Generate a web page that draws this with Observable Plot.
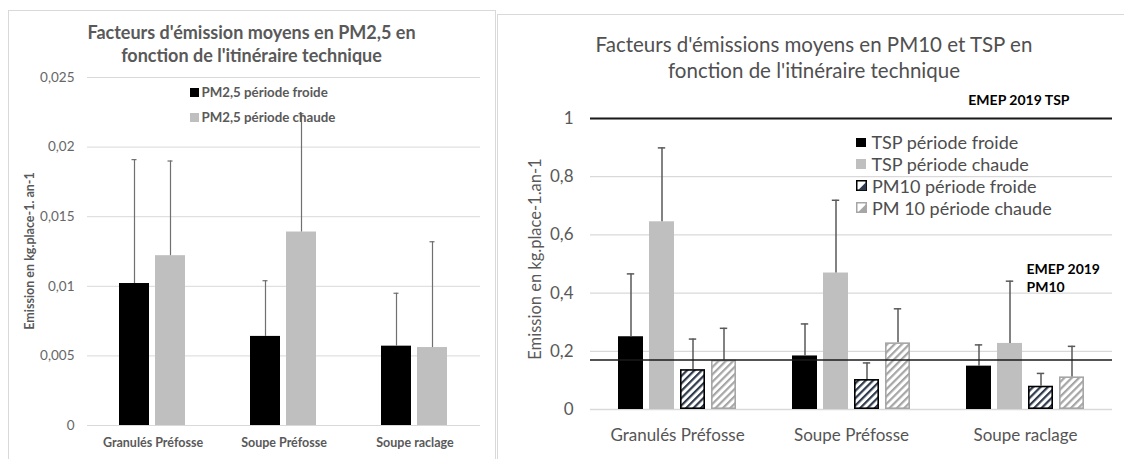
<!DOCTYPE html>
<html>
<head>
<meta charset="utf-8">
<script src="https://cdn.jsdelivr.net/npm/d3@7"></script>
<script src="https://cdn.jsdelivr.net/npm/@observablehq/plot@0.6"></script>
<style>
  body { margin: 0; width: 1124px; height: 459px; overflow: hidden; background: #fff; position: relative; font-family: Lato, "Open Sans", sans-serif; }
  .abs { position: absolute; }
  .title { color: #595959; text-align: center; white-space: nowrap; }
  .ytitle { position: absolute; white-space: nowrap; transform: translate(-50%, -50%) rotate(-90deg); color: #595959; }
  .leg { position: absolute; white-space: nowrap; color: #4d4d4d; display: flex; align-items: center; }
  .sw { display: inline-block; flex: none; }
</style>
</head>
<body>
<div class="abs" style="left:8px;top:10px;width:486px;height:470px;border:1px solid #d9d9d9;"></div>
<div class="abs" style="left:497px;top:14px;width:640px;height:470px;border-left:1px solid #d9d9d9;border-top:1px solid #d9d9d9;"></div>

<div id="chartL" class="abs" style="left:0;top:0"></div>
<div id="chartR" class="abs" style="left:497px;top:0"></div>

<div class="abs title" style="left:8px;width:487px;top:21px;font-weight:700;font-size:18px;line-height:23.4px;">Facteurs d'émission moyens en PM2,5 en<br>fonction de l'itinéraire technique</div>
<div class="abs title" style="left:554px;width:520px;top:32px;font-size:20.5px;line-height:25.5px;color:#505050;">Facteurs d'émissions moyens en PM10 et TSP en<br>fonction de l'itinéraire technique</div>

<div class="ytitle" style="left:29px;top:251px;font-weight:700;font-size:12.5px;">Emission en kg.place-1. an-1</div>
<div class="ytitle" style="left:535px;top:259px;font-size:16.5px;">Emission en kg.place-1.an-1</div>

<div id="legL"></div>
<div id="legR"></div>

<script>
// ---------- data ----------
const categories = ["Granulés Préfosse", "Soupe Préfosse", "Soupe raclage"];

// PM2,5 chart
const pm25Series = ["PM2,5 période froide", "PM2,5 période chaude"];
const pm25Froide = [0.0102, 0.0064, 0.0057];
const pm25FroideSd = [0.0089, 0.0040, 0.0038];
const pm25Chaude = [0.0122, 0.0139, 0.0056];
const pm25ChaudeSd = [0.0068, 0.0085, 0.0076];
const pm25Ticks = [0, 0.005, 0.01, 0.015, 0.02, 0.025];

// PM10 / TSP chart
const pmSeries = ["TSP période froide", "TSP période chaude", "PM10 période froide", "PM 10 période chaude"];
const tspFroide = [0.25, 0.184, 0.149];
const tspFroideSd = [0.216, 0.110, 0.073];
const tspChaude = [0.645, 0.469, 0.227];
const tspChaudeSd = [0.254, 0.250, 0.214];
const pm10Froide = [0.137, 0.103, 0.080];
const pm10FroideSd = [0.105, 0.057, 0.044];
const pm10Chaude = [0.169, 0.229, 0.112];
const pm10ChaudeSd = [0.110, 0.117, 0.105];
const pmTicks = [0, 0.2, 0.4, 0.6, 0.8, 1];
const emepTSP = 1;
const emepPM10 = 0.17;
const emepTSPLabel = "EMEP 2019 TSP";
const emepPM10Label = "EMEP 2019\nPM10";

// ---------- helpers ----------
const fmt = d => String(+d.toFixed(4)).replace(".", ",");
function rows(series, values, sds) {
  const out = [];
  categories.forEach((c, i) => series.forEach((s, j) => out.push({cat: c, series: s, value: values[j][i], sd: sds[j][i]})));
  return out;
}

// ---------- left chart ----------
const leftData = rows(pm25Series, [pm25Froide, pm25Chaude], [pm25FroideSd, pm25ChaudeSd]);
const leftFill = {"PM2,5 période froide": "#000000", "PM2,5 période chaude": "#bfbfbf"};

const plotL = Plot.plot({
  width: 495, height: 459,
  marginLeft: 86, marginRight: 15, marginTop: 77, marginBottom: 34,
  fx: {domain: categories, padding: 0, label: null},
  x: {domain: pm25Series, paddingInner: 0.162, paddingOuter: 0.856, axis: null},
  y: {domain: [0, 0.025], axis: null},
  style: {fontFamily: "Lato, 'Open Sans', sans-serif", background: "transparent", overflow: "visible", color: "#595959"},
  marks: [
    Plot.gridY(pm25Ticks, {stroke: "#d9d9d9", strokeOpacity: 1, strokeWidth: 1}),
    Plot.axisY(pm25Ticks, {tickSize: 0, tickPadding: 13, tickFormat: fmt, fontSize: 13.5, fill: "#666666", label: null}),
    Plot.axisFx({anchor: "bottom", tickSize: 0, tickPadding: 13, fontSize: 12.5, fontWeight: "bold", fill: "#595959", label: null}),
    ...pm25Series.map(s => Plot.barY(leftData.filter(d => d.series === s), {fx: "cat", x: "series", y: "value", fill: leftFill[s]})),
    Plot.ruleX(leftData, {fx: "cat", x: "series", y1: "value", y2: d => d.value + d.sd, stroke: "#6f6f6f", strokeWidth: 1.2}),
    Plot.tickY(leftData, {fx: "cat", x: "series", y: d => d.value + d.sd, stroke: "#6f6f6f", strokeWidth: 1.2, insetLeft: 12.5, insetRight: 12.5})
  ]
});
document.getElementById("chartL").append(plotL);

// ---------- right chart ----------
const rightData = rows(pmSeries, [tspFroide, tspChaude, pm10Froide, pm10Chaude], [tspFroideSd, tspChaudeSd, pm10FroideSd, pm10ChaudeSd]);
const rightFill = {
  "TSP période froide": "#000000",
  "TSP période chaude": "#bfbfbf",
  "PM10 période froide": "url(#hatchDark)",
  "PM 10 période chaude": "url(#hatchGray)"
};
const rightStroke = {
  "TSP période froide": "none",
  "TSP période chaude": "none",
  "PM10 période froide": "#000000",
  "PM 10 période chaude": "#a6a6a6"
};
const lastCat = categories[categories.length - 1];

const plotR = Plot.plot({
  width: 627, height: 459,
  marginLeft: 93, marginRight: 12, marginTop: 118, marginBottom: 50,
  fx: {domain: categories, padding: 0, label: null},
  x: {domain: pmSeries, paddingInner: 0.19, paddingOuter: 0.85, axis: null},
  y: {domain: [0, 1], axis: null},
  style: {fontFamily: "Lato, 'Open Sans', sans-serif", background: "transparent", overflow: "visible", color: "#595959"},
  marks: [
    Plot.gridY(pmTicks, {stroke: "#d9d9d9", strokeOpacity: 1, strokeWidth: 1.3}),
    Plot.axisY(pmTicks, {tickSize: 0, tickPadding: 17, tickFormat: fmt, fontSize: 17, fill: "#595959", label: null}),
    Plot.axisFx({anchor: "bottom", tickSize: 0, tickPadding: 19, fontSize: 17, fill: "#555555", label: null}),
    ...pmSeries.map(s => Plot.barY(rightData.filter(d => d.series === s), {
      fx: "cat", x: "series", y: "value", fill: rightFill[s], stroke: rightStroke[s], strokeWidth: 1.6,
      inset: rightStroke[s] === "none" ? 0 : 0.8
    })),
    Plot.ruleX(rightData, {fx: "cat", x: "series", y1: "value", y2: d => d.value + d.sd, stroke: "#595959", strokeWidth: 1.5}),
    Plot.tickY(rightData, {fx: "cat", x: "series", y: d => d.value + d.sd, stroke: "#595959", strokeWidth: 1.5, insetLeft: 8.8, insetRight: 8.8}),
    Plot.ruleY([emepPM10], {stroke: "#1a1a1a", strokeWidth: 1.6}),
    Plot.ruleY([emepTSP], {stroke: "#1a1a1a", strokeWidth: 2.2}),
    Plot.text([{cat: lastCat, v: emepTSP, label: emepTSPLabel}], {
      fx: "cat", y: "v", text: "label", frameAnchor: "right", textAnchor: "end", lineAnchor: "middle",
      dx: -43, dy: -18, fill: "#000", fontSize: 14, fontWeight: "bold"
    }),
    Plot.text([{cat: lastCat, v: emepPM10, label: emepPM10Label}], {
      fx: "cat", y: "v", text: "label", frameAnchor: "right", textAnchor: "start", lineAnchor: "middle",
      dx: -86, dy: -83, fill: "#000", fontSize: 14, fontWeight: "bold", lineHeight: 1.33
    })
  ]
});
document.getElementById("chartR").append(plotR);

// hatch patterns
const defs = d3.select(plotR).insert("defs", ":first-child");
function hatch(id, color) {
  const p = defs.append("pattern").attr("id", id).attr("patternUnits", "userSpaceOnUse")
    .attr("width", 5.2).attr("height", 5.2).attr("patternTransform", "rotate(45)");
  p.append("rect").attr("width", 5.2).attr("height", 5.2).attr("fill", "#ffffff");
  p.append("rect").attr("width", 2.2).attr("height", 5.2).attr("fill", color);
}
hatch("hatchDark", "#2f3b4c");
hatch("hatchGray", "#a6a6a6");

// ---------- legends ----------
const legL = document.getElementById("legL");
pm25Series.forEach((s, i) => {
  const row = document.createElement("div");
  row.className = "leg";
  row.style.cssText = `left:190px;top:${92.3 + i * 25 - 9}px;height:18px;font-size:13.3px;font-weight:700;color:#595959;`;
  row.innerHTML = `<span class="sw" style="width:8.5px;height:8.5px;background:${leftFill[s]};margin-right:3px"></span>${s}`;
  legL.append(row);
});

const legR = document.getElementById("legR");
pmSeries.forEach((s, i) => {
  const row = document.createElement("div");
  row.className = "leg";
  row.style.cssText = `left:856px;top:${142.3 + i * 21.8 - 11}px;height:22px;font-size:18px;`;
  let sw;
  if (rightStroke[s] === "none") {
    sw = `<span class="sw" style="width:9.5px;height:9.5px;background:${rightFill[s]};margin-right:6px"></span>`;
  } else {
    const c = s.startsWith("PM10") ? "#2f3b4c" : "#a6a6a6";
    const b = s.startsWith("PM10") ? "#000" : "#a6a6a6";
    sw = `<svg class="sw" width="11" height="11" style="margin-right:5px"><rect x="0.75" y="0.75" width="9.5" height="9.5" fill="#fff" stroke="${b}" stroke-width="1.5"/><polygon points="10.25,2 10.25,10.25 2,10.25" fill="${c}"/></svg>`;
  }
  row.innerHTML = sw + s;
  legR.append(row);
});
</script>
</body>
</html>
